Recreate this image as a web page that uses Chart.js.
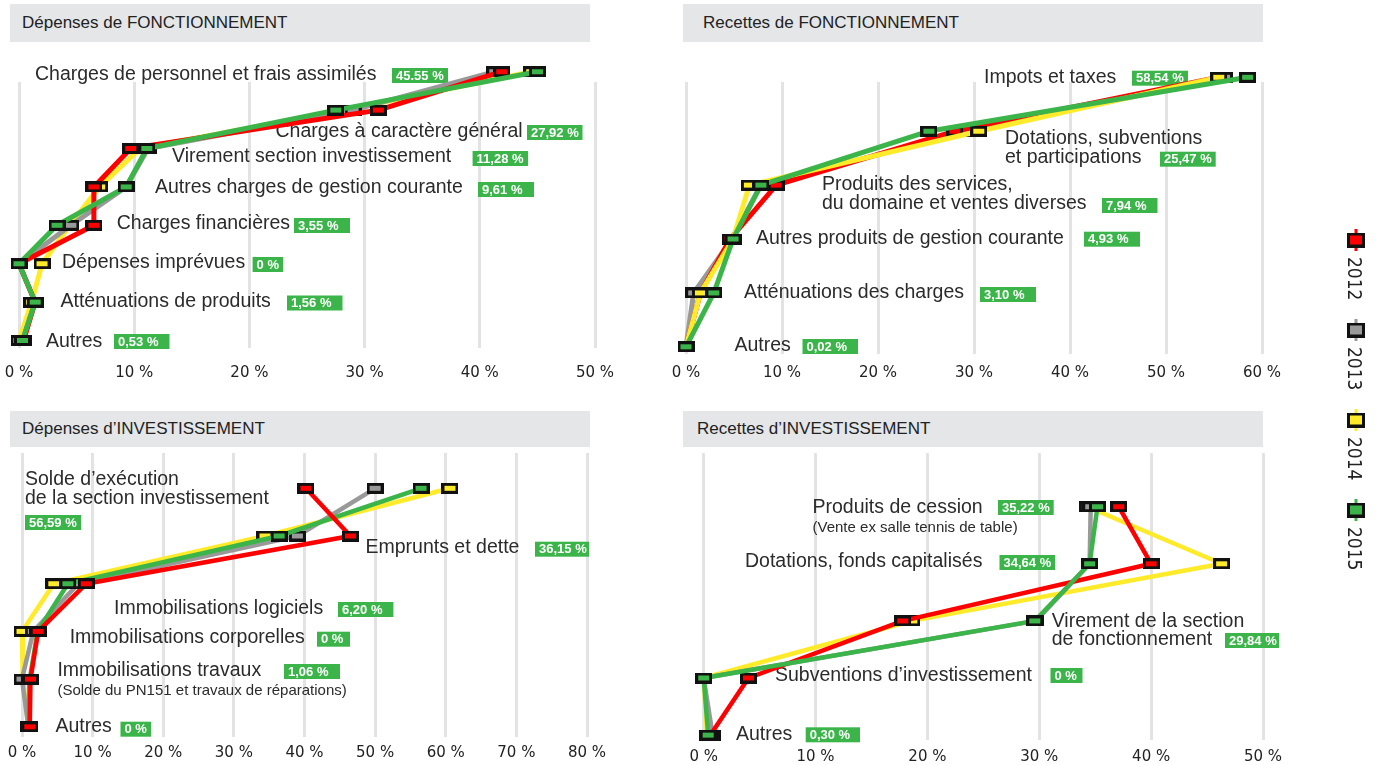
<!DOCTYPE html>
<html lang="fr">
<head>
<meta charset="utf-8">
<title>Dépenses et recettes</title>
<script src="https://cdn.jsdelivr.net/npm/chart.js@4.4.1/dist/chart.umd.min.js"></script>
<style>
  body { margin: 0; background: #fff; }
  #page { position: relative; width: 1376px; height: 765px; overflow: hidden; font-family: "Liberation Sans", Arial, sans-serif; }
  #page canvas { position: absolute; left: 0; top: 0; }
  .title { position: absolute; background: #e4e6e8; color: #222; font-size: 17px; box-sizing: border-box; white-space: nowrap; }
</style>
</head>
<body>
<div id="page">
  <div class="title" style="left:10px;top:4px;width:580px;height:38px;line-height:38px;padding-left:12px">Dépenses de FONCTIONNEMENT</div>
  <div class="title" style="left:683px;top:4px;width:580px;height:38px;line-height:38px;padding-left:20px">Recettes de FONCTIONNEMENT</div>
  <div class="title" style="left:10px;top:411px;width:580px;height:36px;line-height:36px;padding-left:12px">Dépenses d’INVESTISSEMENT</div>
  <div class="title" style="left:683px;top:411px;width:580px;height:36px;line-height:36px;padding-left:14px">Recettes d’INVESTISSEMENT</div>
  <canvas id="depFonc" width="1376" height="765"></canvas>
  <canvas id="recFonc" width="1376" height="765"></canvas>
  <canvas id="depInv" width="1376" height="765"></canvas>
  <canvas id="recInv" width="1376" height="765"></canvas>
  <canvas id="legend" width="1376" height="765"></canvas>
</div>
<script>
// Years and their colours
const years = ["2012", "2013", "2014", "2015"];
const yearColors = ["#ff0000", "#999999", "#ffeb2a", "#3bb54a"];

// Dépenses de fonctionnement
const depFoncCats = [
  "Charges de personnel et frais assimilés",
  "Charges à caractère général",
  "Virement section investissement",
  "Autres charges de gestion courante",
  "Charges financières",
  "Dépenses imprévues",
  "Atténuations de produits",
  "Autres",
];
const depFoncPct = ["45.55 %", "27,92 %", "11,28 %", "9,61 %", "3,55 %", "0 %", "1,56 %", "0,53 %"];
const depFonc2012 = [41.9, 31.2, 9.7, 6.5, 6.5, 0, 1.4, 0.4];
const depFonc2013 = [41.3, 29.0, 11.2, 9.3, 4.5, 0, 1.4, 0.3];
const depFonc2014 = [44.5, 28.3, 10.5, 7.0, 4.4, 2.0, 1.1, 0];
const depFonc2015 = [45.0, 27.5, 11.1, 9.3, 3.3, 0, 1.4, 0.3];

// Recettes de fonctionnement
const recFoncCats = [
  "Impots et taxes",
  "Dotations, subventions\net participations",
  "Produits des services,\ndu domaine et ventes diverses",
  "Autres produits de gestion courante",
  "Atténuations des charges",
  "Autres",
];
const recFoncPct = ["58,54 %", "25,47 %", "7,94 %", "4,93 %", "3,10 %", "0,02 %"];
const recFonc2012 = [55.5, 28.0, 9.4, 4.6, 1.5, 0];
const recFonc2013 = [56.1, 29.4, 7.8, 4.8, 0.8, 0];
const recFonc2014 = [55.5, 30.5, 6.6, 4.9, 1.5, 0];
const recFonc2015 = [58.5, 25.3, 7.8, 4.9, 2.9, 0];

// Dépenses d'investissement
const depInvCats = [
  "Solde d’exécution\nde la section investissement",
  "Emprunts et dette",
  "Immobilisations logiciels",
  "Immobilisations corporelles",
  "Immobilisations travaux",
  "Autres",
];
const depInvNotes = ["", "", "", "", "(Solde du PN151 et travaux de réparations)", ""];
const depInvPct = ["56,59 %", "36,15 %", "6,20 %", "0 %", "1,06 %", "0 %"];
const depInv2012 = [40.2, 46.5, 9.1, 2.3, 1.2, 1.1];
const depInv2013 = [50.0, 39.0, 8.0, 1.6, 0.0, 0.9];
const depInv2014 = [60.6, 34.4, 4.5, 0.0, 0.1, 0.9];
const depInv2015 = [56.5, 36.4, 6.5, 2.2, 1.1, 1.0];

// Recettes d'investissement
const recInvCats = [
  "Produits de cession",
  "Dotations, fonds capitalisés",
  "Virement de la section\nde fonctionnement",
  "Subventions d’investissement",
  "Autres",
];
const recInvNotes = ["(Vente ex salle tennis de table)", "", "", "", ""];
const recInvPct = ["35,22 %", "34,64 %", "29,84 %", "0 %", "0,30 %"];
const recInv2012 = [37.1, 40.0, 17.8, 4.0, 0.6];
const recInv2013 = [34.6, 34.5, 29.7, 0.0, 0.8];
const recInv2014 = [34.3, 46.3, 18.6, 0.0, 0.3];
const recInv2015 = [35.2, 34.5, 29.6, 0.0, 0.4];

const tickStep = 10;

// Square markers with a black frame
function makeMarker(color, w, h, b) {
  const c = document.createElement("canvas");
  c.width = w;
  c.height = h;
  const g = c.getContext("2d");
  g.fillStyle = "#111";
  g.fillRect(0, 0, w, h);
  g.fillStyle = color;
  g.fillRect(b, b, w - 2 * b, h - 2 * b);
  return c;
}
const markers = yearColors.map((c) => makeMarker(c, 17, 11, 3));

// Row texts, green percentage boxes and the x tick labels
function rowLabels(names, pct, notes, L) {
  return {
    id: "rowLabels",
    beforeDatasetsDraw(chart) {
      const ctx = chart.ctx;
      ctx.save();
      ctx.textBaseline = "middle";
      names.forEach((name, i) => {
        const [tx, ty] = L.text[i];
        ctx.fillStyle = "#2b2b2b";
        ctx.font = '19.5px "Liberation Sans", Arial, sans-serif';
        name.split("\n").forEach((line, k) => ctx.fillText(line, tx, ty + k * L.gap));
        if (notes && notes[i]) {
          ctx.font = '15px "Liberation Sans", Arial, sans-serif';
          ctx.fillText(notes[i], L.note[0], L.note[1]);
        }
        const [bx, by, bw] = L.badge[i];
        ctx.fillStyle = "#3bb54a";
        ctx.fillRect(bx, by, bw, 15);
        ctx.fillStyle = "#fff";
        ctx.font = 'bold 13px "Liberation Sans", Arial, sans-serif';
        ctx.fillText(pct[i], bx + 4, by + 8);
      });

      const xs = chart.scales.x;
      ctx.fillStyle = "#222";
      ctx.textAlign = "center";
      ctx.font = '15px "DejaVu Sans", Verdana, sans-serif';
      xs.ticks.forEach((t) => ctx.fillText(t.value + " %", xs.getPixelForValue(t.value), L.tickY));
      ctx.restore();
    },
  };
}

function buildPanel(id, names, series, pct, notes, max, L) {
  const datasets = years.map((yr, k) => ({
    label: yr,
    data: series[k].map((v, i) => ({ x: v, y: i })),
    borderColor: yearColors[k],
    backgroundColor: yearColors[k],
    borderWidth: L.lineWidth,
    borderJoinStyle: "round",
    pointStyle: markers[k],
    pointRadius: 14,
    pointHoverRadius: 14,
    showLine: true,
    tension: 0,
    clip: false,
    order: L.order[k],
  }));

  new Chart(document.getElementById(id), {
    type: "scatter",
    data: { datasets },
    options: {
      responsive: false,
      animation: false,
      events: [],
      layout: {
        padding: {
          left: L.left,
          right: 1376 - L.right,
          top: L.gridTop,
          bottom: 765 - L.gridBottom,
        },
      },
      plugins: { legend: { display: false }, tooltip: { enabled: false } },
      scales: {
        x: {
          type: "linear",
          min: 0,
          max: max,
          border: { display: false },
          grid: { color: "#e3e3e3", lineWidth: 3, drawTicks: false },
          ticks: { stepSize: tickStep, display: false },
        },
        y: {
          type: "linear",
          display: false,
          reverse: true,
          min: (L.gridTop - L.rowTop) / L.rowStep,
          max: (L.gridBottom - L.rowTop) / L.rowStep,
        },
      },
    },
    plugins: [rowLabels(names, pct, notes, L)],
  });
}

buildPanel("depFonc", depFoncCats, [depFonc2012, depFonc2013, depFonc2014, depFonc2015], depFoncPct, null, 50, {
  left: 17.5, right: 595, gridTop: 82, gridBottom: 348, rowTop: 71.7, rowStep: 38.4, tickY: 373,
  lineWidth: 5, order: [1, 2, 3, 0], gap: 19,
  text: [[35, 75], [275.5, 131.7], [172, 157], [155, 188], [116.7, 224], [62, 263], [60.5, 301.7], [46, 341.7]],
  badge: [[392, 68, 56], [527, 125, 55.5], [472.6, 151, 55.5], [478, 182, 56], [294, 218, 56], [252.6, 257, 30.5], [287, 295.5, 55.5], [114, 334, 55.5]],
});

buildPanel("recFonc", recFoncCats, [recFonc2012, recFonc2013, recFonc2014, recFonc2015], recFoncPct, null, 60, {
  left: 686, right: 1262, gridTop: 82, gridBottom: 354, rowTop: 77.3, rowStep: 53.9, tickY: 373,
  lineWidth: 5, order: [2, 3, 1, 0], gap: 19,
  text: [[984, 77.3], [1005, 138.3], [822, 185], [756, 239], [744, 293], [734.5, 346]],
  badge: [[1132, 70.7, 56], [1160, 151.7, 55.7], [1102, 198, 55.5], [1084, 231.7, 56], [980, 287, 56], [802.5, 339, 55.5]],
});

buildPanel("depInv", depInvCats, [depInv2012, depInv2013, depInv2014, depInv2015], depInvPct, depInvNotes, 80, {
  left: 22, right: 587, gridTop: 453, gridBottom: 736.7, rowTop: 488.3, rowStep: 47.7, tickY: 753,
  lineWidth: 4.5, order: [0, 2, 3, 1], gap: 18.3, note: [57.4, 691],
  text: [[25, 480], [365.5, 547.3], [114, 608.3], [69.7, 637.7], [57.4, 670.7], [55.5, 726.7]],
  badge: [[25, 515, 56], [535, 541.7, 54], [338, 602, 55.4], [317, 631.7, 33], [284, 664, 56], [120.5, 721.7, 30.5]],
});

buildPanel("recInv", recInvCats, [recInv2012, recInv2013, recInv2014, recInv2015], recInvPct, recInvNotes, 50, {
  left: 703.7, right: 1263, gridTop: 453, gridBottom: 740, rowTop: 506.7, rowStep: 57.1, tickY: 757,
  lineWidth: 4.5, order: [1, 2, 3, 0], gap: 18.3, note: [812.5, 528.3],
  text: [[812.5, 507.3], [745, 561.7], [1051.7, 621.7], [775, 676], [736, 735]],
  badge: [[998, 500, 55.7], [999.5, 555, 55.5], [1225, 633, 54], [1050.5, 668, 32], [805.7, 727.3, 54.3]],
});

// Vertical legend on the right
(function drawLegend() {
  const ctx = document.getElementById("legend").getContext("2d");
  const big = yearColors.map((c) => makeMarker(c, 18, 15, 3));
  years.forEach((yr, k) => {
    const cx = 1356, cy = 240 + k * 90;
    ctx.strokeStyle = yearColors[k];
    ctx.lineWidth = 3;
    ctx.beginPath();
    ctx.moveTo(cx, cy - 11);
    ctx.lineTo(cx, cy + 11);
    ctx.stroke();
    ctx.drawImage(big[k], cx - 9, cy - 7.5);
    ctx.save();
    ctx.translate(1352.5, cy + 17);
    ctx.rotate(Math.PI / 2);
    ctx.fillStyle = "#222";
    ctx.font = '19px "Liberation Sans Narrow", "DejaVu Sans Condensed", "Liberation Sans", sans-serif';
    ctx.textBaseline = "middle";
    ctx.fillText(yr, 0, 0);
    ctx.restore();
  });
})();
</script>
</body>
</html>
